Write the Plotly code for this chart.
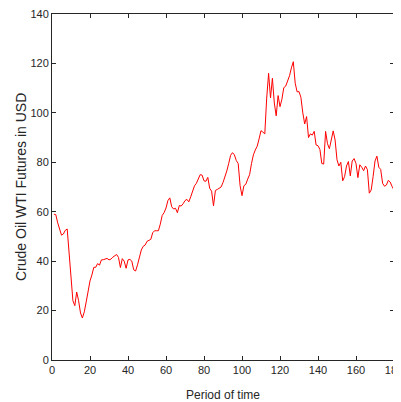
import plotly.graph_objects as go

periods = list(range(1, 181))
prices = [
    59.0, 58.8, 55.5, 52.5, 50.5, 51.0, 52.5, 53.0, 42.5, 36.0,
    24.0, 22.0, 27.5, 24.0, 19.0, 17.0, 19.5, 23.5, 28.0, 32.0,
    34.4, 37.5, 37.5, 39.0, 38.4, 40.5, 40.6, 40.7, 41.1, 40.5,
    40.8, 41.6, 42.3, 42.7, 41.5, 37.4, 41.0, 40.0, 37.1, 40.5,
    40.7, 40.0, 36.5, 36.0, 38.5, 41.5, 44.5, 46.0, 46.5, 48.0,
    48.3, 48.8, 51.5, 52.3, 52.3, 52.3, 55.0, 58.5, 59.6, 61.5,
    64.5, 65.6, 62.0, 61.1, 61.4, 59.6, 62.5, 62.3, 63.2, 64.5,
    65.0, 64.0, 66.0, 68.5, 70.5, 71.5, 73.3, 75.0, 74.8, 72.5,
    72.3, 73.9, 69.5, 68.3, 62.4, 68.6, 69.0, 69.4, 70.0, 71.8,
    73.9, 76.5, 79.5, 82.8, 83.9, 83.0, 80.7, 79.5, 70.5, 66.5,
    70.5, 71.1, 73.2, 75.0, 79.5, 83.0, 85.0, 86.5, 89.5, 92.8,
    92.2, 91.5, 106.0, 116.0, 106.0, 114.0, 104.0, 98.8, 107.0, 102.5,
    105.5, 110.2, 110.8, 113.0, 115.0, 118.2, 120.7, 112.0, 108.5, 108.6,
    106.3, 100.0, 95.5, 98.5, 90.0, 91.5, 91.0, 92.5, 87.0, 86.7,
    85.2, 79.5, 79.3, 92.5, 87.5, 85.5, 88.5, 92.7, 89.0, 81.0,
    78.5, 80.0, 72.5, 74.2, 78.5, 80.3, 74.5, 80.5, 81.5, 79.5,
    73.8, 79.0, 78.0, 76.6, 78.5, 77.0, 67.5, 68.8, 74.2, 80.5,
    82.5, 78.0, 77.1, 71.5, 70.3, 70.8, 72.7, 72.0, 70.2, 68.8,
]

x_ticks = [0, 20, 40, 60, 80, 100, 120, 140, 160, 180]
y_ticks = [0, 20, 40, 60, 80, 100, 120, 140]
x_title = "Period of time"
y_title = "Crude Oil WTI Futures in USD"

fig = go.Figure(go.Scatter(x=periods, y=prices, mode="lines",
                           line=dict(color="#ff0000", width=1)))

font = "Liberation Sans, Arial, sans-serif"
ink = "#262626"
axis_common = dict(showline=True, linecolor=ink, linewidth=1, mirror="ticks",
                   ticks="inside", ticklen=4, tickcolor=ink, showgrid=False,
                   zeroline=False, automargin=False, ticklabeloverflow="allow",
                   tickfont=dict(family=font, size=11, color=ink))

fig.update_layout(
    width=401, height=402,
    margin=dict(l=44, r=15, t=6, b=50, autoexpand=False),
    paper_bgcolor="white", plot_bgcolor="white",
    showlegend=False,
    xaxis=dict(range=[0, 180], tickvals=x_ticks, **axis_common),
    yaxis=dict(range=[0, 140], tickvals=y_ticks, **axis_common),
    annotations=[
        dict(text=x_title, xref="paper", yref="paper", x=0.5, y=0, yshift=-35,
             xanchor="center", yanchor="middle", showarrow=False,
             font=dict(family=font, size=12, color=ink)),
        dict(text=y_title, xref="paper", yref="paper", x=0, y=0.5, xshift=-31,
             xanchor="center", yanchor="middle", textangle=-90, showarrow=False,
             font=dict(family=font, size=14, color=ink)),
    ],
)

fig.write_html("out.html")
